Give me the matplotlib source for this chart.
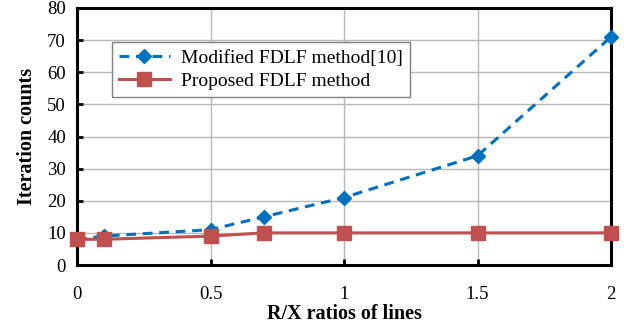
import numpy as np
import matplotlib.pyplot as plt

# R/X ratio and iteration counts
rx_ratio = [0, 0.1, 0.5, 0.7, 1.0, 1.5, 2.0]
modified_fdlf = [8, 9, 11, 15, 21, 34, 71]
proposed_fdlf = [8, 8, 9, 10, 10, 10, 10]

plt.rcParams['font.family'] = ['Liberation Serif', 'DejaVu Serif']

fig = plt.figure(figsize=(6.24, 3.24), dpi=100)
ax = fig.add_axes([77 / 624, 1 - 265 / 324, 534 / 624, 257 / 324])

ax.plot(rx_ratio, modified_fdlf, color='#0070c0', linestyle=(0, (3.2, 2.2)), linewidth=2.2,
        marker='D', markersize=7.5, label='Modified FDLF method[10]', clip_on=False, zorder=3)
ax.plot(rx_ratio, proposed_fdlf, color='#c0504d', linestyle='-', linewidth=2.2,
        marker='s', markersize=10, label='Proposed FDLF method', clip_on=False, zorder=4)

ax.set_xlim(0, 2)
ax.set_ylim(0, 80)
ax.set_xticks([0, 0.5, 1, 1.5, 2])
ax.set_xticklabels(['0', '0.5', '1', '1.5', '2'])
ax.set_yticks(range(0, 81, 10))
ax.grid(True, color='#b8b8b8', linewidth=1.0)
ax.set_axisbelow(True)
for s in ax.spines.values():
    s.set_linewidth(2.2)
ax.tick_params(axis='x', direction='in', length=4, width=2, pad=15, labelsize=13.5)
ax.tick_params(axis='y', direction='in', length=4, width=2, pad=8, labelsize=13.5)

ax.set_xlabel('R/X ratios of lines', fontsize=14.5, fontweight='bold', labelpad=1)
ax.set_ylabel('Iteration counts', fontsize=14.5, fontweight='bold', labelpad=7)

leg = ax.legend(loc='upper left', bbox_to_anchor=(0.048, 0.905), fontsize=14, frameon=True,
                fancybox=False, edgecolor='#808080', framealpha=1, handlelength=2.6,
                borderpad=0.35, labelspacing=0.3, handletextpad=0.6)
leg.get_frame().set_linewidth(1.0)

fig.savefig('out.png', dpi=100)
